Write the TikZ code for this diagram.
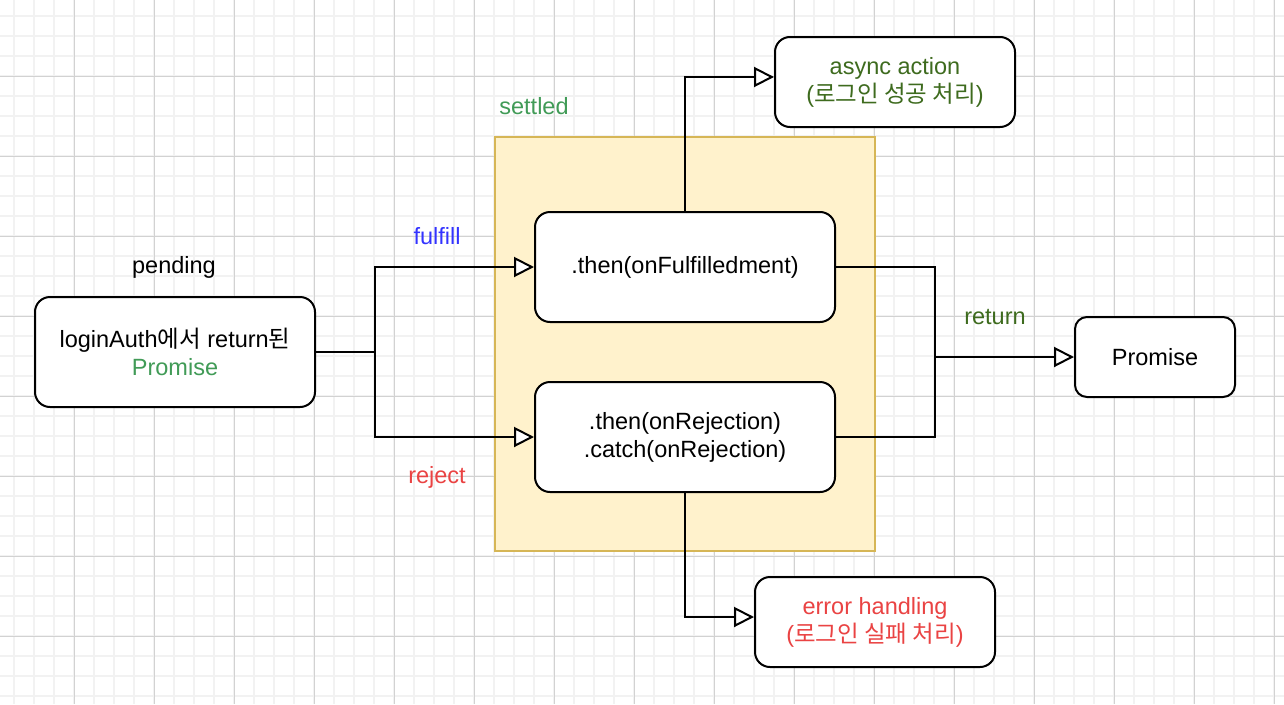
\documentclass[tikz,border=0pt]{standalone}
\usepackage{fontspec}
\setmainfont{Liberation Sans}
\newfontfamily\kr{Noto Sans CJK KR}
\usetikzlibrary{arrows.meta}
\definecolor{gridminor}{HTML}{F2F2F2}
\definecolor{gridmajor}{HTML}{D2D2D2}
\definecolor{promgreen}{HTML}{419B57}
\definecolor{darkgreen}{HTML}{3E6B1E}
\definecolor{fulblue}{HTML}{3333FF}
\definecolor{rejred}{HTML}{EA4343}
\definecolor{yfill}{HTML}{FFF2CC}
\definecolor{ydraw}{HTML}{D6B656}
\tikzset{
  txt/.style={font=\fontsize{23.5}{28}\selectfont, inner sep=0pt, align=center},
  box/.style={txt, draw=black, line width=2pt, fill=white, rounded corners=15pt},
  conn/.style={draw=black, line width=2pt},
  arr/.style={conn, -{Triangle[open,length=20pt,width=20pt,fill=white,line width=2pt]}},
  minorline/.style={draw=gridminor, line width=1.5pt},
  majorline/.style={draw=gridmajor, line width=1pt}
}
\begin{document}
\begin{tikzpicture}[x=1pt,y=-1pt]
\useasboundingbox (0,0) rectangle (1284,704);
\fill[white] (0,0) rectangle (1284,704);
\foreach \x in {14,34,...,1284} \draw[minorline] (\x,0) -- (\x,704);
\foreach \y in {16,36,...,704} \draw[minorline] (0,\y) -- (1284,\y);
\foreach \x in {74,154,...,1284} \draw[majorline] (\x,0) -- (\x,704);
\foreach \y in {76,156,...,704} \draw[majorline] (0,\y) -- (1284,\y);

% settled region
\draw[fill=yfill, draw=ydraw, line width=2pt] (495,137) rectangle (875,551);
\node[txt, text=promgreen] (settled) at (534,106) {settled};

% boxes
\node[box, minimum width=280pt, minimum height=110pt] (login) at (175,352)
  {loginAuth{\kr 에서} return{\kr 된}\\\textcolor{promgreen}{Promise}};
\node[txt] (pending) at (174,267) {pending};
\node[box, minimum width=300pt, minimum height=110pt] (then) at (685,267) {.then(onFulfilledment)};
\node[box, minimum width=300pt, minimum height=110pt] (catch) at (685,437) {.then(onRejection)\\.catch(onRejection)};
\node[box, minimum width=240pt, minimum height=90pt, text=darkgreen] (async) at (895,82) {async action\\({\kr 로그인 성공 처리})};
\node[box, minimum width=240pt, minimum height=90pt, text=rejred] (error) at (875,622) {error handling\\({\kr 로그인 실패 처리})};
\node[box, minimum width=160pt, minimum height=80pt, rounded corners=12pt] (prom) at (1155,357) {Promise};

% labels
\node[txt, text=fulblue] (fulfill) at (437,236) {fulfill};
\node[txt, text=rejred] (reject) at (437,477) {reject};
\node[txt, text=darkgreen] (ret) at (995,317) {return};

% connectors
\coordinate (split) at (375,352);
\coordinate (merge) at (935,357);
\draw[conn] (login.east) -- (split);
\draw[arr] (split) |- (then.west);
\draw[arr] (split) |- (catch.west);
\draw[arr] (then.north) |- ([yshift=5pt]async.west);
\draw[arr] (catch.south) |- ([yshift=5pt]error.west);
\draw[conn] (then.east) -| (merge);
\draw[conn] (catch.east) -| (merge);
\draw[arr] (merge) -- (prom.west);
\end{tikzpicture}
\end{document}
